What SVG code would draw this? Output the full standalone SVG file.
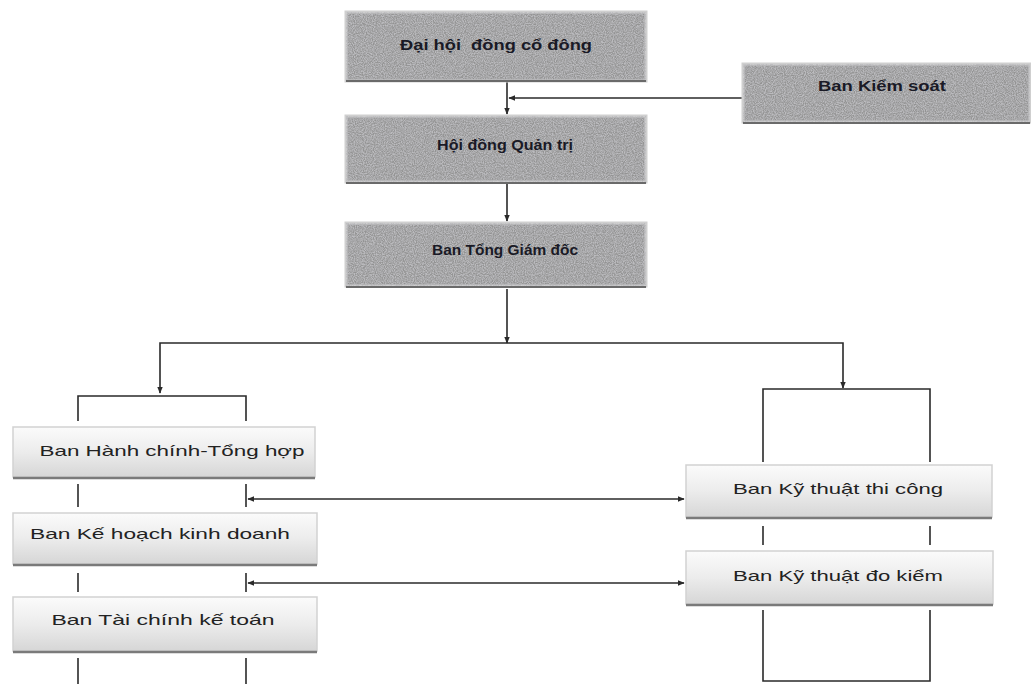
<svg xmlns="http://www.w3.org/2000/svg" width="1031" height="684" viewBox="0 0 1031 684">
<defs>
<style>
.top rect.b{fill:#939393;stroke:#cfcfcf;stroke-width:3}
.top line.s{stroke:#6a6a6a;stroke-width:2}
.top text{font-family:"Liberation Sans",Arial,sans-serif;font-weight:bold;font-size:14px;fill:#1a1a26;text-anchor:middle}
.low rect.b{fill:url(#lg);stroke:#d2d2d2;stroke-width:1.5}
.low line.s{stroke:#7a7a7a;stroke-width:2.5}
.low text{font-family:"Liberation Sans",Arial,sans-serif;font-size:14.5px;fill:#222;text-anchor:middle}
.c{stroke:#2a2a2a;stroke-width:1.6;fill:none}
.tex{filter:url(#noise)}
</style>
<linearGradient id="lg" x1="0" y1="0" x2="0" y2="1">
<stop offset="0" stop-color="#fbfbfb"/>
<stop offset="0.5" stop-color="#ececec"/>
<stop offset="1" stop-color="#d6d6d6"/>
</linearGradient>
<filter id="noise" x="0" y="0" width="100%" height="100%">
<feTurbulence type="fractalNoise" baseFrequency="0.9" numOctaves="2" seed="3" result="t"/>
<feColorMatrix in="t" type="matrix" values="0 0 0 0 0.5  0 0 0 0 0.5  0 0 0 0 0.52  0 0 0 -2.2 1.6" result="n"/>
<feComposite in="n" in2="SourceGraphic" operator="in"/>
</filter>
<marker id="ah" viewBox="0 0 10 10" refX="9" refY="5" markerWidth="7" markerHeight="7" orient="auto-start-reverse" markerUnits="userSpaceOnUse">
<path d="M0,1 L10,5 L0,9 z" fill="#2a2a2a"/>
</marker>
</defs>
<rect width="1031" height="684" fill="#ffffff"/>

<g id="connectors">
<line class="c" x1="507" y1="82" x2="507" y2="114" marker-end="url(#ah)"/>
<line class="c" x1="742" y1="98" x2="509" y2="98" marker-end="url(#ah)"/>
<line class="c" x1="507" y1="183" x2="507" y2="221" marker-end="url(#ah)"/>
<line class="c" x1="507" y1="289" x2="507" y2="343" marker-end="url(#ah)"/>
<polyline class="c" points="160,393 160,343 843,343 843,388" marker-start="url(#ah)" marker-end="url(#ah)"/>
<polyline class="c" points="78,421 78,396 246,396 246,421"/>
<line class="c" x1="78" y1="484" x2="78" y2="507"/>
<line class="c" x1="246" y1="484" x2="246" y2="507"/>
<line class="c" x1="78" y1="573" x2="78" y2="592"/>
<line class="c" x1="246" y1="573" x2="246" y2="592"/>
<line class="c" x1="78" y1="658" x2="78" y2="684"/>
<line class="c" x1="246" y1="658" x2="246" y2="684"/>
<polyline class="c" points="763,462 763,389 930,389 930,462"/>
<line class="c" x1="763" y1="526" x2="763" y2="545"/>
<line class="c" x1="930" y1="526" x2="930" y2="545"/>
<polyline class="c" points="763,610 763,681 930,681 930,610"/>
<line class="c" x1="248" y1="499" x2="684" y2="499" marker-start="url(#ah)" marker-end="url(#ah)"/>
<line class="c" x1="248" y1="583" x2="684" y2="583" marker-start="url(#ah)" marker-end="url(#ah)"/>
</g>

<g id="dhdcd" class="top">
<rect class="b" x="346" y="12" width="300" height="69"/>
<rect class="tex" x="346" y="12" width="300" height="69" fill="#999"/>
<line class="s" x1="346" y1="81" x2="646" y2="81"/>
<text x="496" y="50" textLength="192" lengthAdjust="spacingAndGlyphs">Đại hội&#160; đồng cổ đông</text>
</g>
<g id="bks" class="top">
<rect class="b" x="743" y="64" width="287" height="58"/>
<rect class="tex" x="743" y="64" width="287" height="58" fill="#999"/>
<line class="s" x1="743" y1="123" x2="1030" y2="123"/>
<text x="882" y="91" textLength="128" lengthAdjust="spacingAndGlyphs">Ban Kiểm soát</text>
</g>
<g id="hdqt" class="top">
<rect class="b" x="346" y="116" width="300" height="66"/>
<rect class="tex" x="346" y="116" width="300" height="66" fill="#999"/>
<line class="s" x1="346" y1="183" x2="646" y2="183"/>
<text x="505" y="150" textLength="136" lengthAdjust="spacingAndGlyphs">Hội đồng Quản trị</text>
</g>
<g id="btgd" class="top">
<rect class="b" x="346" y="223" width="300" height="63"/>
<rect class="tex" x="346" y="223" width="300" height="63" fill="#999"/>
<line class="s" x1="346" y1="287" x2="646" y2="287"/>
<text x="505" y="255" textLength="146" lengthAdjust="spacingAndGlyphs">Ban Tổng Giám đốc</text>
</g>

<g id="bhcth" class="low">
<rect class="b" x="13" y="427" width="302" height="50"/>
<line class="s" x1="13" y1="478" x2="315" y2="478"/>
<text x="172" y="456" textLength="265" lengthAdjust="spacingAndGlyphs">Ban Hành chính-Tổng hợp</text>
</g>
<g id="bkhkd" class="low">
<rect class="b" x="13" y="513" width="304" height="51"/>
<line class="s" x1="13" y1="565" x2="317" y2="565"/>
<text x="160" y="539" textLength="260" lengthAdjust="spacingAndGlyphs">Ban Kế hoạch kinh doanh</text>
</g>
<g id="btckt" class="low">
<rect class="b" x="13" y="597" width="304" height="54"/>
<line class="s" x1="13" y1="652" x2="317" y2="652"/>
<text x="163" y="625" textLength="223" lengthAdjust="spacingAndGlyphs">Ban Tài chính kế toán</text>
</g>
<g id="bkttc" class="low">
<rect class="b" x="686" y="465" width="306" height="52"/>
<line class="s" x1="686" y1="518" x2="992" y2="518"/>
<text x="838" y="494" textLength="210" lengthAdjust="spacingAndGlyphs">Ban Kỹ thuật thi công</text>
</g>
<g id="bktdk" class="low">
<rect class="b" x="686" y="551" width="307" height="53"/>
<line class="s" x1="686" y1="605" x2="993" y2="605"/>
<text x="838" y="581" textLength="210" lengthAdjust="spacingAndGlyphs">Ban Kỹ thuật đo kiểm</text>
</g>
</svg>
